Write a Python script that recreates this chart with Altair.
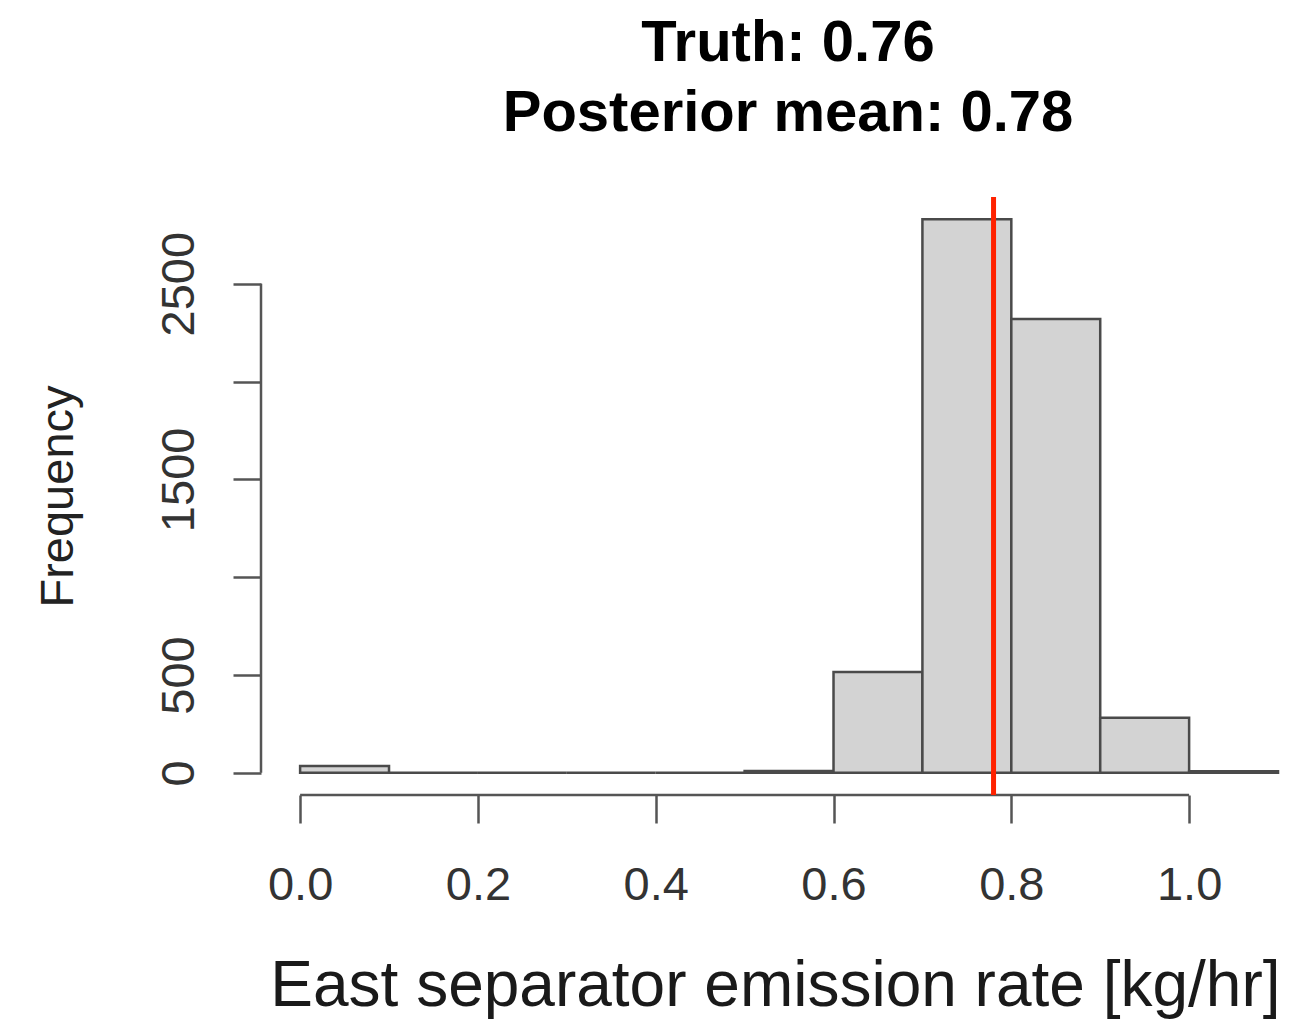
import altair as alt
import pandas as pd

# Histogram of posterior draws (bin edges and counts)
bin_start = [0.0, 0.1, 0.2, 0.3, 0.4, 0.5, 0.6, 0.7, 0.8, 0.9, 1.0]
bin_end = [0.1, 0.2, 0.3, 0.4, 0.5, 0.6, 0.7, 0.8, 0.9, 1.0, 1.1]
counts = [35, 0, 0, 0, 0, 10, 515, 2830, 2320, 282, 8]

posterior_mean = 0.78
x_ticks = [0.0, 0.2, 0.4, 0.6, 0.8, 1.0]
y_ticks = [0, 500, 1000, 1500, 2000, 2500]
# R drops overlapping labels on the y axis; these ticks stay unlabeled
y_unlabeled = [1000, 2000]

title_lines = ["Truth: 0.76", "Posterior mean: 0.78"]
x_title = "East separator emission rate [kg/hr]"
y_title = "Frequency"

W, H = 1030, 598
FONT = "Liberation Sans"
AXIS_COLOR = "#555555"

bars = pd.DataFrame({"start": bin_start, "end": bin_end, "count": counts})

x_scale = alt.Scale(domain=[-0.044, 1.1146], nice=False, zero=False)
y_scale = alt.Scale(domain=[-113.2, 2943.2], nice=False, zero=False)

hidden = " || ".join(f"datum.value == {v}" for v in y_unlabeled)

x_axis = alt.Axis(
    values=x_ticks, format=".1f", domain=False, grid=False,
    tickSize=28, tickWidth=2.5, tickColor=AXIS_COLOR,
    labelFont=FONT, labelFontSize=47, labelColor="#333333",
    labelBaseline="alphabetic", labelPadding=76,
    labelFlush=False, labelOverlap=False,
    title=x_title, titleFont=FONT, titleFontSize=64, titleFontWeight="normal",
    titleColor="#1a1a1a", titleAlign="right", titleBaseline="alphabetic",
    titleAnchor="end", titleX=1019, titleY=210,
)
y_axis = alt.Axis(
    values=y_ticks, domain=False, grid=False,
    labelExpr=f"({hidden}) ? '' : format(datum.value, 'd')",
    tickSize=28, tickWidth=2.5, tickColor=AXIS_COLOR,
    labelFont=FONT, labelFontSize=47, labelColor="#333333",
    labelAngle=270, labelAlign="center", labelBaseline="alphabetic",
    labelPadding=40, labelOverlap=False, labelFlush=False,
    title=y_title, titleFont=FONT, titleFontSize=47, titleFontWeight="normal",
    titleColor="#222222", titleAngle=270, titleAlign="center",
    titleBaseline="alphabetic", titleX=-189, titleY=299,
)

hist = alt.Chart(bars).mark_rect(
    fill="#d3d3d3", stroke="#4a4a4a", strokeWidth=2.5
).encode(
    x=alt.X("start:Q", scale=x_scale, axis=x_axis),
    x2="end:Q",
    y=alt.Y("count:Q", scale=y_scale, axis=y_axis),
    y2=alt.datum(0),
)

# Detached R-style axis lines spanning only the tick range
x_line = alt.Chart(pd.DataFrame({"a": [x_ticks[0]], "b": [x_ticks[-1]]})).mark_rule(
    color=AXIS_COLOR, strokeWidth=2.5
).encode(x=alt.X("a:Q", scale=x_scale), x2="b:Q", y=alt.value(H))

y_line = alt.Chart(pd.DataFrame({"a": [y_ticks[0]], "b": [y_ticks[-1]]})).mark_rule(
    color=AXIS_COLOR, strokeWidth=2.5
).encode(y=alt.Y("a:Q", scale=y_scale), y2="b:Q", x=alt.value(0))

mean_line = alt.Chart(pd.DataFrame({"m": [posterior_mean]})).mark_rule(
    color="#ff2200", strokeWidth=5
).encode(x=alt.X("m:Q", scale=x_scale), y=alt.value(0), y2=alt.value(H))

chart = alt.layer(hist, x_line, y_line, mean_line).properties(
    width=W, height=H,
    background="white",
    title=alt.TitleParams(
        text=title_lines, font=FONT, fontSize=58, fontWeight="bold",
        color="#000000", lineHeight=70, anchor="middle", dx=12,
        baseline="alphabetic", offset=6,
    ),
    autosize=alt.AutoSizeParams(type="none"),
    padding={"left": 261, "top": 197, "right": 0, "bottom": 228},
).configure_view(strokeWidth=0, stroke="transparent")

chart.save("out.html", embed_options={"renderer": "svg", "actions": False})
